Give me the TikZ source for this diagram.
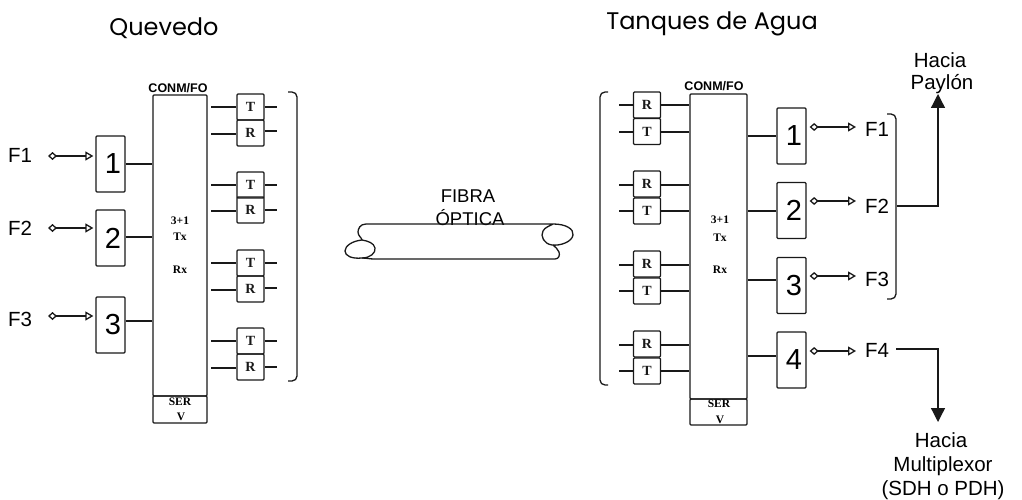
\documentclass[tikz,border=0pt]{standalone}
\usepackage{fontspec}
\setmainfont{Liberation Sans}
\newfontfamily\titlefont{Poppins}
\newfontfamily\labelserif{Liberation Serif}
\usetikzlibrary{arrows.meta}
\tikzset{
  ln/.style={line width=1.3pt,black!90},
  boxnode/.style={draw,ln,rounded corners=1pt,inner sep=0pt},
  bigbox/.style={boxnode,minimum width=54pt},
  numbox/.style={boxnode,minimum width=29pt,minimum height=56pt,font=\fontsize{29}{29}\selectfont},
  trbox/.style={boxnode,minimum width=27pt,minimum height=26pt,font=\labelserif\bfseries\fontsize{14}{14}\selectfont},
  flabel/.style={inner sep=0pt,font=\fontsize{20.5}{20.5}\selectfont},
  hacia/.style={font=\fontsize{20.5}{20.5}\selectfont},
  titletext/.style={font=\titlefont\fontsize{24}{24}\selectfont},
  smallserif/.style={font=\labelserif\bfseries\fontsize{11.5}{11.5}\selectfont},
  conm/.style={font=\bfseries\fontsize{12.5}{12.5}\selectfont},
  duplex/.style={ln,{Diamond[open,length=9pt,width=8pt,line width=1.3pt]}-{Triangle[open,length=8pt,width=9pt,line width=1.3pt]}},
  toward/.style={ln,-{Triangle[length=14pt,width=14pt]}},
  brace/.style={ln,rounded corners=5pt},
}
\begin{document}
\begin{tikzpicture}[x=1pt,y=-1pt]
\useasboundingbox (0,0) rectangle (1022,500);
% titles
\node[titletext] (tq) at (164,28) {Quevedo};
\node[titletext] (tt) at (712,24) {Tanques de Agua};
% ---------- left station
\node[bigbox,minimum height=301pt] (L) at (180,245.5) {};
\node[bigbox,minimum height=27pt] (Ls) at (180,409.5) {};
\node[conm] (Lc) at (178,88) {CONM/FO};
\node[smallserif] (L31) at (180,221) {3+1};
\node[smallserif] (Ltx) at (180,237) {Tx};
\node[smallserif] (Lrx) at (180,270) {Rx};
\node[smallserif] (Lsa) at (180,402) {SER};
\node[smallserif] (Lsb) at (181,417) {V};
\foreach \n/\t/\yb/\ya/\fy in {1/1/164/156/155,2/2/238/228/228,3/3/325/316/319}{
  \node[numbox] (Lb\n) at (110.5,\yb) {};
  \node[font=\fontsize{29}{29}\selectfont] (Ln\n) at (113,\yb) {\t};
  \node[flabel,anchor=west] (Lf\n) at (8,\fy) {F\n};
  \coordinate (La\n) at (48,\ya);
  \draw[duplex,shorten >=2pt] (La\n) -- (Lb\n.west |- La\n);
}
\foreach \n/\y in {1/164,2/237,3/321}{
  \draw[ln] (Lb\n.east |- 0,\y) -- (L.west |- 0,\y);
}
\foreach \n/\ya/\yb/\ra/\rb in {1/107/134/107/131,2/185/211/185/210,3/263/290/263/288,4/341/368/341/367}{
  \node[trbox] (LT\n) at (250.5,\ya) {T};
  \node[trbox] (LR\n) at (250.5,\yb-1) {R};
  \coordinate (Lia\n) at (211,\ya);
  \coordinate (Lib\n) at (211,\yb);
  \coordinate (Loa\n) at (277,\ra);
  \coordinate (Lob\n) at (277,\rb);
  \draw[ln] (Lia\n) -- (LT\n.west |- Lia\n);
  \draw[ln] (Lib\n) -- (LR\n.west |- Lib\n);
  \draw[ln] (LT\n.east |- Loa\n) -- (Loa\n);
  \draw[ln] (LR\n.east |- Lob\n) -- (Lob\n);
}
\coordinate (Lbr1) at (288,92);
\coordinate (Lbr2) at (297,92);
\coordinate (Lbr3) at (297,381);
\coordinate (Lbr4) at (288,381);
\draw[brace] (Lbr1) -- (Lbr2) -- (Lbr3) -- (Lbr4);
% ---------- fibre
\node[font=\fontsize{18.5}{18.5}\selectfont] (fa) at (468,196) {FIBRA};
\node[font=\fontsize{18.5}{18.5}\selectfont] (fb) at (470,218) {ÓPTICA};
\coordinate (ftl) at (366,224);
\coordinate (ftr) at (553,224);
\coordinate (fbl) at (374,259);
\coordinate (fbr) at (555,259);
\draw[ln] (ftl) -- (ftr)
  .. controls (566,224) and (574,229) .. (573,235)
  .. controls (572,242) and (560,246) .. (552,245)
  .. controls (544,244) and (540,236) .. (543,231)
  .. controls (545,227) and (550,226) .. (553,224);
\draw[ln] (ftl)
  .. controls (360,224) and (358,229) .. (358,232)
  .. controls (358,236) and (362,238) .. (362,240)
  .. controls (352,241) and (345,246) .. (345,251)
  .. controls (345,256) and (352,259) .. (362,258)
  .. controls (370,258) and (376,253) .. (375,248)
  .. controls (374,243) and (368,241) .. (362,240);
\draw[ln] (fbl) -- (fbr)
  .. controls (559,259) and (560,255) .. (559,252)
  .. controls (558,249) and (555,247) .. (553,245);
\draw[ln] (fbl) .. controls (370,259) and (366,258) .. (362,258);
% ---------- right station
\node[bigbox,minimum width=57pt,minimum height=305pt] (Rg) at (718.5,246.5) {};
\node[bigbox,minimum width=57pt,minimum height=26pt] (Rs) at (718.5,412) {};
\node[conm] (Rc) at (714,86) {CONM/FO};
\node[smallserif] (R31) at (720,220) {3+1};
\node[smallserif] (Rtx) at (720,238) {Tx};
\node[smallserif] (Rrx) at (720,270) {Rx};
\node[smallserif] (Rsa) at (719,404) {SER};
\node[smallserif] (Rsb) at (720,420) {V};
\foreach \n/\yt/\yb/\ia/\ib/\oa/\ob in {1/105/131.5/105/132/105/132,2/184/211/185/211/185/211,3/264/291/265/291/265/291,4/344/371/345/371/345/371}{
  \node[trbox] (RR\n) at (647,\yt) {R};
  \node[trbox] (RT\n) at (647,\yb) {T};
  \coordinate (Ria\n) at (619,\ia);
  \coordinate (Rib\n) at (619,\ib);
  \draw[ln] (Ria\n) -- (RR\n.west |- Ria\n);
  \draw[ln] (Rib\n) -- (RT\n.west |- Rib\n);
  \draw[ln] (RR\n.east |- 0,\oa) -- (Rg.west |- 0,\oa);
  \draw[ln] (RT\n.east |- 0,\ob) -- (Rg.west |- 0,\ob);
}
\coordinate (Rbr1) at (608,92);
\coordinate (Rbr2) at (600,92);
\coordinate (Rbr3) at (600,385);
\coordinate (Rbr4) at (608,385);
\draw[brace] (Rbr1) -- (Rbr2) -- (Rbr3) -- (Rbr4);
\foreach \n/\yb/\yc/\ya/\fy in {1/136/136/127/129,2/210.5/211/201/206,3/285.5/280/276/279,4/360/356/351/350}{
  \node[numbox] (Rb\n) at (791.5,\yb) {};
  \node[font=\fontsize{29}{29}\selectfont] (Rn\n) at (794,\yb) {\n};
  \node[flabel,anchor=west] (Rf\n) at (865,\fy) {F\n};
  \coordinate (Ra\n) at (856,\ya);
  \draw[duplex,shorten <=3pt] (Rb\n.east |- Ra\n) -- (Ra\n);
  \draw[ln] (Rg.east |- 0,\yc) -- (Rb\n.west |- 0,\yc);
}
\coordinate (Rbr5) at (887,114);
\coordinate (Rbr6) at (896,114);
\coordinate (Rbr7) at (896,299);
\coordinate (Rbr8) at (887,299);
\draw[brace] (Rbr5) -- (Rbr6) -- (Rbr7) -- (Rbr8);
\node[hacia] (h1) at (940,60) {Hacia};
\node[hacia] (h2) at (942,84) {Paylón};
\node[hacia] (h3) at (941,440) {Hacia};
\node[hacia] (h4) at (943,466) {Multiplexor};
\node[hacia] (h5) at (943,490) {(SDH o PDH)};
\coordinate (p0) at (897,206);
\coordinate (p1) at (938,94);
\coordinate (q0) at (896,349);
\coordinate (q1) at (938,422);
\draw[toward] (p0) -| (p1);
\draw[toward] (q0) -| (q1);
\end{tikzpicture}
\end{document}
